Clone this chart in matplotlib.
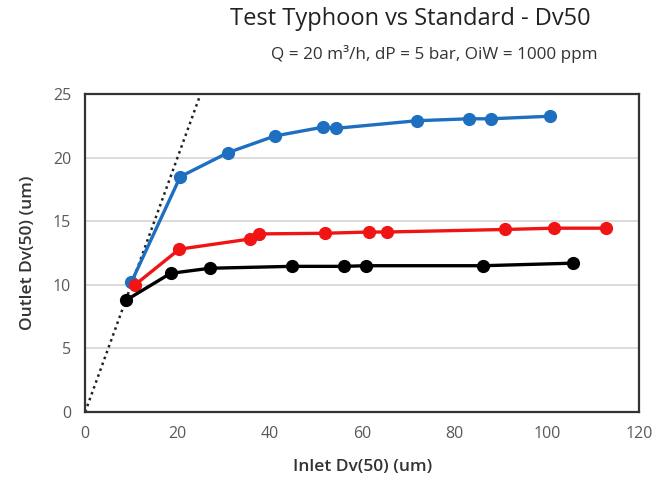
import matplotlib.pyplot as plt
import numpy as np

# series
typhoon_x = [10.0, 20.6, 31.0, 41.1, 51.6, 54.3, 71.9, 83.1, 87.8, 100.6]
typhoon_y = [10.2, 18.5, 20.4, 21.7, 22.4, 22.3, 22.9, 23.05, 23.05, 23.25]

red_x = [10.8, 20.4, 35.7, 37.7, 51.9, 61.5, 65.4, 90.9, 101.5, 112.7]
red_y = [10.0, 12.8, 13.6, 14.0, 14.05, 14.15, 14.15, 14.35, 14.45, 14.45]

black_x = [8.9, 18.5, 27.0, 44.7, 56.0, 60.8, 86.2, 105.6]
black_y = [8.8, 10.9, 11.3, 11.45, 11.45, 11.5, 11.5, 11.7]

ref_x = [0, 25]
ref_y = [0, 25]

plt.rcParams['font.family'] = ['Open Sans', 'DejaVu Sans']

fig = plt.figure(figsize=(6.55, 4.87), dpi=100)
ax = fig.add_axes([0.130, 0.154, 0.846, 0.653])

ax.plot(ref_x, ref_y, color='#222222', linestyle=(0, (1, 1.5)), linewidth=1.8, zorder=2)
ax.plot(typhoon_x, typhoon_y, color='#1f6fc0', marker='o', markersize=8.5, linewidth=2.4, zorder=3)
ax.plot(red_x, red_y, color='#f01414', marker='o', markersize=8.5, linewidth=2.4, zorder=3)
ax.plot(black_x, black_y, color='black', marker='o', markersize=8.5, linewidth=2.4, zorder=3)

ax.set_xlim(0, 120)
ax.set_ylim(0, 25)
ax.set_xticks(np.arange(0, 121, 20))
ax.set_yticks(np.arange(0, 26, 5))
ax.yaxis.grid(True, color='#d9d9d9', linewidth=1.3)
ax.set_axisbelow(True)
ax.tick_params(length=0, labelsize=11.5, labelcolor='#595959', pad=10)
for s in ax.spines.values():
    s.set_color('#333333')
    s.set_linewidth(1.6)

ax.set_xlabel('Inlet Dv(50) (um)', fontsize=12.5, color='#333333', labelpad=12,
              fontweight='semibold')
ax.set_ylabel('Outlet Dv(50) (um)', fontsize=12.5, color='#333333', labelpad=12,
              fontweight='semibold')

fig.text(0.626, 0.962, 'Test Typhoon vs Standard - Dv50', fontsize=17, color='#222222',
         ha='center', va='center')
fig.text(0.663, 0.889, 'Q = 20 m³/h, dP = 5 bar, OiW = 1000 ppm', fontsize=12.3, color='#333333',
         ha='center', va='center')

fig.savefig('out.png', dpi=100)
